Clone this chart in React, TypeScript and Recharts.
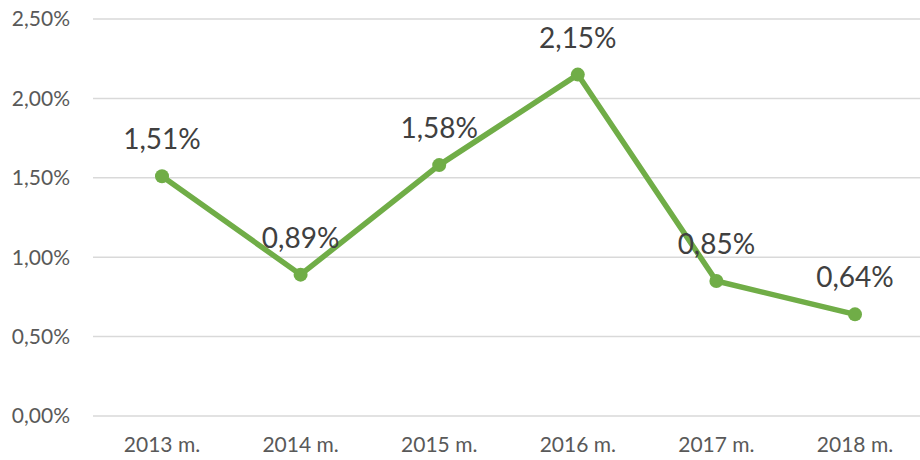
import React from 'react';
import { LineChart, Line, XAxis, YAxis, CartesianGrid } from 'recharts';

const categories = ['2013 m.', '2014 m.', '2015 m.', '2016 m.', '2017 m.', '2018 m.'];
const values = [1.51, 0.89, 1.58, 2.15, 0.85, 0.64];
const yTicks = [0, 0.5, 1, 1.5, 2, 2.5];

const data = categories.map((c, i) => ({ name: c, value: values[i] }));

const fmt = (v: number) => v.toFixed(2).replace('.', ',') + '%';

const FONT = 'Lato, "Open Sans", sans-serif';

const renderLabel = (props: any) => {
  const { x, y, value } = props;
  return (
    <text x={x} y={y - 27} textAnchor="middle" fontSize={28} fill="#404040" fontFamily={FONT}>
      {fmt(value)}
    </text>
  );
};

export default function App() {
  return (
    <div style={{ position: 'absolute', left: 0, top: 0, width: 920, height: 460, background: '#fff' }}>
      <LineChart width={920} height={460} data={data} margin={{ top: 19, right: 0, bottom: 14, left: 0 }}>
        <CartesianGrid vertical={false} stroke="#D9D9D9" strokeWidth={1.5} />
        <XAxis
          dataKey="name"
          axisLine={false}
          tickLine={false}
          tickSize={0}
          tickMargin={21}
          height={30}
          padding={{ left: 69, right: 65 }}
          tick={{ fontSize: 21, fill: '#595959', fontFamily: FONT }}
          interval={0}
        />
        <YAxis
          domain={[0, 2.5]}
          ticks={yTicks}
          width={93}
          axisLine={false}
          tickLine={false}
          tickSize={0}
          tickMargin={23}
          tickFormatter={fmt}
          tick={{ fontSize: 21, fill: '#595959', fontFamily: FONT }}
        />
        <Line
          dataKey="value"
          stroke="#70AD47"
          strokeWidth={5.5}
          dot={{ r: 7, fill: '#70AD47', stroke: '#70AD47', strokeWidth: 0 }}
          activeDot={false}
          isAnimationActive={false}
          label={renderLabel}
        />
      </LineChart>
    </div>
  );
}
